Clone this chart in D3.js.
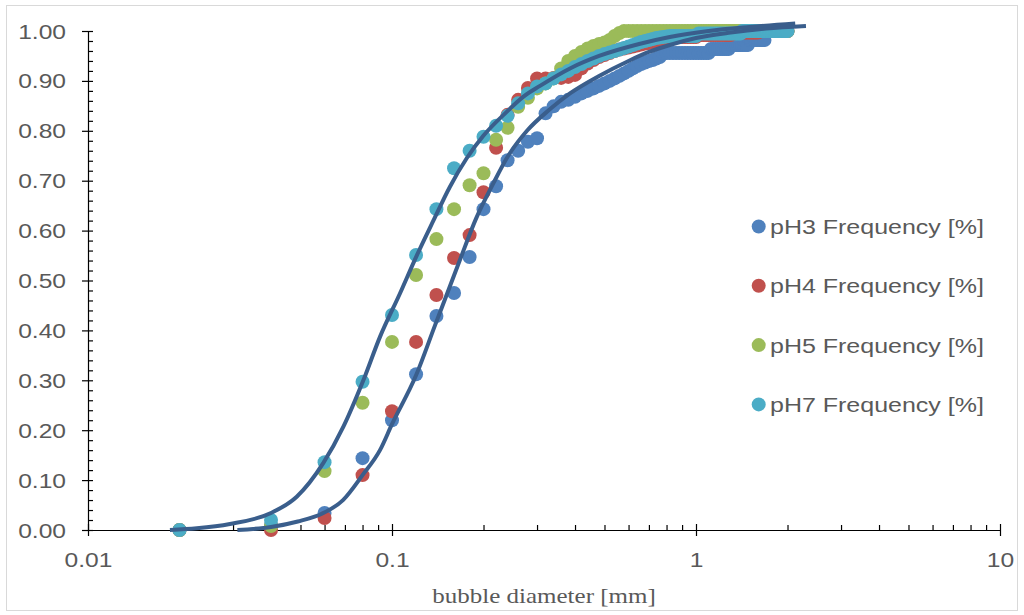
<!DOCTYPE html>
<html>
<head>
<meta charset="utf-8">
<script src="https://cdn.jsdelivr.net/npm/d3@7"></script>
<style>
  html, body { margin: 0; padding: 0; background: #ffffff; }
  svg { display: block; }
</style>
</head>
<body>
<svg id="chart" width="1024" height="615"></svg>
<script>
// Bubble diameter classes [mm]
const diameters = [
  0.02, 0.04, 0.06, 0.08, 0.10, 0.12, 0.14, 0.16, 0.18, 0.20,
  0.22, 0.24, 0.26, 0.28, 0.30, 0.32, 0.34, 0.36, 0.38, 0.40,
  0.42, 0.44, 0.46, 0.48, 0.50, 0.52, 0.54, 0.56, 0.58, 0.60,
  0.62, 0.64, 0.66, 0.68, 0.70, 0.72, 0.74, 0.76, 0.78, 0.80,
  0.82, 0.84, 0.86, 0.88, 0.90, 0.92, 0.94, 0.96, 0.98, 1.00,
  1.02, 1.04, 1.06, 1.08, 1.10, 1.12, 1.14, 1.16, 1.18, 1.20,
  1.22, 1.24, 1.26, 1.28, 1.30, 1.32, 1.34, 1.36, 1.38, 1.40,
  1.42, 1.44, 1.46, 1.48, 1.50, 1.52, 1.54, 1.56, 1.58, 1.60,
  1.62, 1.64, 1.66, 1.68, 1.70, 1.72, 1.74, 1.76, 1.78, 1.80,
  1.82, 1.84, 1.86, 1.88, 1.90, 1.92, 1.94, 1.96, 1.98, 2.00
];

// Cumulative frequency per pH
const pH3 = [
  0, 0.01, 0.034, 0.144, 0.22, 0.312, 0.429, 0.475, 0.547, 0.643,
  0.689, 0.741, 0.76, 0.778, 0.785, 0.835, 0.849, 0.858, 0.862, 0.868,
  0.875, 0.88, 0.885, 0.89, 0.895, 0.9, 0.905, 0.91, 0.915, 0.92,
  0.925, 0.93, 0.934, 0.937, 0.94, 0.942, 0.945, 0.948, 0.956, 0.956,
  0.956, 0.956, 0.956, 0.956, 0.956, 0.956, 0.956, 0.956, 0.956, 0.956,
  0.956, 0.956, 0.956, 0.956, 0.956, 0.964, 0.964, 0.964, 0.964, 0.964,
  0.964, 0.964, 0.964, 0.964, 0.972, 0.972, 0.972, 0.972, 0.972, 0.972,
  0.972, 0.972, 0.972, 0.972, 0.982, 0.982, 0.982, 0.982, 0.982, 0.982,
  0.982, 0.982, 0.982, 0.982, 1.0, 1.0, 1.0, 1.0, 1.0, 1.0,
  1.0, 1.0, 1.0, 1.0, 1.0, 1.0, 1.0, 1.0, 1.0, 1.0
];
const pH4 = [
  0, 0, 0.024, 0.11, 0.238, 0.377, 0.471, 0.545, 0.591, 0.677,
  0.766, 0.832, 0.862, 0.886, 0.905, 0.905, 0.906, 0.906, 0.908, 0.912,
  0.925, 0.935, 0.942, 0.948, 0.952, 0.956, 0.96, 0.963, 0.965, 0.967,
  0.969, 0.971, 0.973, 0.975, 0.976, 0.977, 0.978, 0.979, 0.98, 0.988,
  0.988, 0.988, 0.988, 0.988, 0.988, 0.988, 0.988, 0.988, 0.988, 0.988,
  0.992, 0.992, 0.992, 0.992, 0.992, 0.992, 0.992, 0.992, 0.992, 0.992,
  0.992, 0.992, 0.992, 0.992, 0.992, 0.997, 0.997, 0.997, 0.997, 0.997,
  0.997, 0.997, 0.997, 0.997, 0.997, 0.997, 0.997, 0.997, 0.997, 0.997,
  1.0, 1.0, 1.0, 1.0, 1.0, 1.0, 1.0, 1.0, 1.0, 1.0,
  1.0, 1.0, 1.0, 1.0, 1.0, 1.0, 1.0, 1.0, 1.0, 1.0
];
const pH5 = [
  0, 0.008, 0.118, 0.255, 0.377, 0.511, 0.583, 0.643, 0.691, 0.715,
  0.782, 0.806, 0.848, 0.866, 0.885, 0.895, 0.905, 0.925, 0.94, 0.95,
  0.958, 0.965, 0.97, 0.974, 0.977, 0.982, 0.99, 0.996, 1.0, 1.0,
  1.0, 1.0, 1.0, 1.0, 1.0, 1.0, 1.0, 1.0, 1.0, 1.0,
  1.0, 1.0, 1.0, 1.0, 1.0, 1.0, 1.0, 1.0, 1.0, 1.0,
  1.0, 1.0, 1.0, 1.0, 1.0, 1.0, 1.0, 1.0, 1.0, 1.0,
  1.0, 1.0, 1.0, 1.0, 1.0, 1.0, 1.0, 1.0, 1.0, 1.0,
  1.0, 1.0, 1.0, 1.0, 1.0, 1.0, 1.0, 1.0, 1.0, 1.0,
  1.0, 1.0, 1.0, 1.0, 1.0, 1.0, 1.0, 1.0, 1.0, 1.0,
  1.0, 1.0, 1.0, 1.0, 1.0, 1.0, 1.0, 1.0, 1.0, 1.0
];
const pH7 = [
  0, 0.02, 0.136, 0.297, 0.431, 0.551, 0.643, 0.725, 0.76, 0.788,
  0.81, 0.83, 0.855, 0.875, 0.889, 0.895, 0.905, 0.913, 0.92, 0.928,
  0.934, 0.94, 0.945, 0.95, 0.954, 0.957, 0.96, 0.963, 0.966, 0.969,
  0.972, 0.975, 0.978, 0.98, 0.982, 0.984, 0.986, 0.987, 0.988, 0.989,
  0.99, 0.99, 0.99, 0.99, 0.99, 0.99, 0.99, 0.99, 0.99, 0.99,
  0.995, 0.995, 0.995, 0.995, 0.995, 0.995, 0.995, 0.995, 0.995, 0.995,
  0.995, 0.995, 0.995, 0.995, 0.995, 0.995, 0.995, 0.995, 0.995, 0.995,
  1.0, 1.0, 1.0, 1.0, 1.0, 1.0, 1.0, 1.0, 1.0, 1.0,
  1.0, 1.0, 1.0, 1.0, 1.0, 1.0, 1.0, 1.0, 1.0, 1.0,
  1.0, 1.0, 1.0, 1.0, 1.0, 1.0, 1.0, 1.0, 1.0, 1.0
];

// Fitted distribution curves: [diameter, cumulative value]
const fitFine = [
  [0.0186, 0.0], [0.0228, 0.0034], [0.0293, 0.012], [0.0398, 0.0335],
  [0.0486, 0.0667], [0.0594, 0.134], [0.0692, 0.207], [0.0805, 0.30],
  [0.0913, 0.387], [0.1062, 0.474], [0.1206, 0.55], [0.1368, 0.62],
  [0.1551, 0.688], [0.1761, 0.745], [0.1997, 0.79], [0.2384, 0.838],
  [0.27, 0.868], [0.3068, 0.89], [0.385, 0.925], [0.48, 0.95],
  [0.65, 0.974], [0.82, 0.988], [1.1, 1.0], [1.5, 1.008], [2.12, 1.015]
];
const fitCoarse = [
  [0.031, 0.0], [0.04, 0.006], [0.049, 0.017], [0.059, 0.033],
  [0.069, 0.06], [0.08, 0.11], [0.0913, 0.16], [0.1, 0.212],
  [0.12, 0.31], [0.1385, 0.41], [0.151, 0.47], [0.167, 0.54],
  [0.189, 0.624], [0.2156, 0.695], [0.2384, 0.745], [0.278, 0.8],
  [0.329, 0.842], [0.385, 0.875], [0.48, 0.91], [0.6, 0.94],
  [0.7, 0.958], [0.82, 0.972], [1.0, 0.986], [1.3, 0.997],
  [1.7, 1.005], [2.3, 1.01]
];

const seriesNames = ["pH3 Frequency [%]", "pH4 Frequency [%]", "pH5 Frequency [%]", "pH7 Frequency [%]"];
const seriesColors = ["#4F81BD", "#C0504D", "#9BBB59", "#4BACC6"];
const xTickValues = [0.01, 0.1, 1, 10];
const xTickLabels = ["0.01", "0.1", "1", "10"];
const yTickValues = [0, 0.1, 0.2, 0.3, 0.4, 0.5, 0.6, 0.7, 0.8, 0.9, 1.0];
const yTickLabels = ["0.00", "0.10", "0.20", "0.30", "0.40", "0.50", "0.60", "0.70", "0.80", "0.90", "1.00"];
const xTitle = "bubble diameter [mm]";

const svg = d3.select("#chart");
const textColor = "#595959";
const sansFont = "'Liberation Sans', Arial, sans-serif";
const serifFont = "'Liberation Serif', 'Times New Roman', serif";
const stretch = 1.23;

// outer frame
svg.append("rect")
  .attr("x", 6.5).attr("y", 5.5).attr("width", 1011).attr("height", 605)
  .attr("fill", "#ffffff").attr("stroke", "#D9D9D9").attr("stroke-width", 1);

const x = d3.scaleLog().domain([0.01, 10]).range([88, 1000]);
const y = d3.scaleLinear().domain([0, 1]).range([530, 31]);

// minor tick positions
const xMinor = [];
[0.01, 0.1, 1].forEach(dec => { for (let k = 2; k <= 9; k++) xMinor.push(dec * k); });
const yMinor = d3.range(0, 51).map(i => i / 50);

// x axis: minor ticks pointing inward, major ticks crossing
svg.append("g")
  .attr("transform", "translate(0,530)")
  .call(d3.axisTop(x).tickValues(xMinor).tickSize(5).tickSizeOuter(0).tickFormat(""))
  .call(g => g.select(".domain").remove());
svg.append("g")
  .attr("transform", "translate(0,530)")
  .call(d3.axisTop(x).tickValues(xTickValues).tickSize(6).tickSizeOuter(0).tickFormat(""))
  .call(g => g.select(".domain").remove());
const xAxis = svg.append("g")
  .attr("transform", "translate(0,530)")
  .call(d3.axisBottom(x).tickValues(xTickValues).tickSize(6).tickSizeOuter(0)
    .tickFormat((d, i) => xTickLabels[i]));
xAxis.selectAll("text")
  .attr("y", 0).attr("dy", 0)
  .attr("transform", `translate(0,37) scale(${stretch},1)`)
  .attr("fill", textColor)
  .style("font-family", sansFont).style("font-size", "20px");

// y axis
svg.append("g")
  .attr("transform", "translate(88,0)")
  .call(d3.axisRight(y).tickValues(yMinor).tickSize(5).tickSizeOuter(0).tickFormat(""))
  .call(g => g.select(".domain").remove());
const yAxis = svg.append("g")
  .attr("transform", "translate(88,0)")
  .call(d3.axisLeft(y).tickValues(yTickValues).tickSize(6).tickSizeOuter(0)
    .tickFormat((d, i) => yTickLabels[i]));
yAxis.selectAll("text")
  .attr("x", 0).attr("dy", 0)
  .attr("transform", `translate(-22,7) scale(${stretch},1)`)
  .attr("fill", textColor)
  .style("font-family", sansFont).style("font-size", "20px");

svg.selectAll(".domain, .tick line").attr("stroke", "#000000").attr("stroke-width", 1.2);

// axis title
svg.append("text")
  .attr("transform", `translate(544,603) scale(1.19,1)`)
  .attr("text-anchor", "middle")
  .attr("fill", textColor)
  .style("font-family", serifFont).style("font-size", "21px")
  .text(xTitle);

// data points
const allSeries = [pH3, pH4, pH5, pH7];
allSeries.forEach((vals, si) => {
  svg.append("g")
    .selectAll("circle")
    .data(diameters.map((d, i) => [d, vals[i]]))
    .join("circle")
    .attr("cx", d => x(d[0]))
    .attr("cy", d => y(d[1]))
    .attr("r", 7)
    .attr("fill", seriesColors[si]);
});

// fitted curves
const line = d3.line()
  .x(d => x(d[0]))
  .y(d => y(d[1]))
  .curve(d3.curveMonotoneX);
[fitCoarse, fitFine].forEach(fit => {
  svg.append("path")
    .datum(fit)
    .attr("d", line)
    .attr("fill", "none")
    .attr("stroke", "#3A5E8C")
    .attr("stroke-width", 4);
});

// legend
const legend = svg.append("g");
seriesNames.forEach((name, i) => {
  const cy = 226.5 + i * 59.3;
  legend.append("circle")
    .attr("cx", 758.7).attr("cy", cy).attr("r", 7)
    .attr("fill", seriesColors[i]);
  legend.append("text")
    .attr("transform", `translate(770,${cy + 7.5}) scale(1.25,1)`)
    .attr("fill", textColor)
    .style("font-family", sansFont).style("font-size", "20px")
    .text(name);
});
</script>
</body>
</html>
